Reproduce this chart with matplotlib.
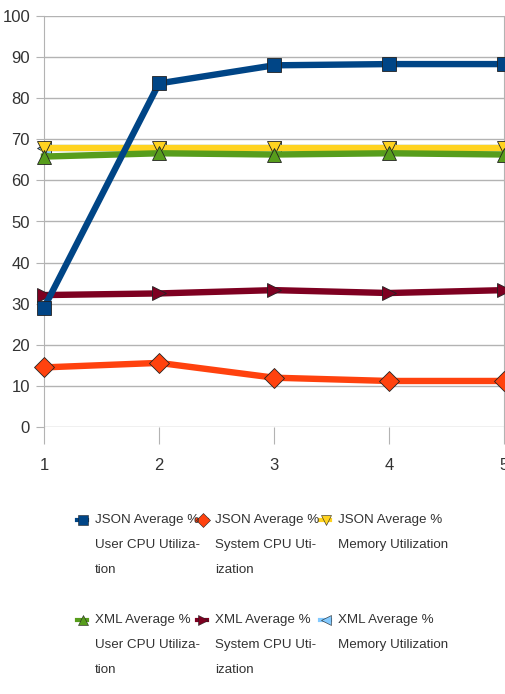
import matplotlib
matplotlib.use("Agg")
import matplotlib.pyplot as plt
from matplotlib.lines import Line2D

plt.rcParams['font.family'] = ['Liberation Sans', 'DejaVu Sans']

x = [1, 2, 3, 4, 5]
json_user = [29.0, 83.6, 88.0, 88.3, 88.3]
json_sys = [14.5, 15.6, 12.0, 11.2, 11.2]
json_mem = [68.0, 68.0, 68.0, 68.0, 68.0]
xml_user = [65.8, 66.6, 66.3, 66.6, 66.3]
xml_sys = [32.1, 32.5, 33.3, 32.6, 33.3]
xml_mem = [68.0, 68.0, 68.0, 68.0, 68.0]

series = [
    ("JSON Average %\nUser CPU Utiliza-\ntion", json_user, "#004586", "s", 6),
    ("JSON Average %\nSystem CPU Uti-\nization", json_sys, "#ff420e", "D", 3),
    ("JSON Average %\nMemory Utilization", json_mem, "#ffd320", "v", 3),
    ("XML Average %\nUser CPU Utiliza-\ntion", xml_user, "#579d1c", "^", 4),
    ("XML Average %\nSystem CPU Uti-\nization", xml_sys, "#7e0021", ">", 5),
    ("XML Average %\nMemory Utilization", xml_mem, "#83caff", "<", 2),
]
yticks = [0, 10, 20, 30, 40, 50, 60, 70, 80, 90, 100]

fig = plt.figure(figsize=(5.06, 6.94), dpi=100)
ax = fig.add_axes([44/506, (694-427)/694, (504-44)/506, (427-16)/694])

for label, vals, color, marker, z in series:
    ax.plot(x, vals, color=color, lw=4.6, marker=marker, markersize=10,
            markerfacecolor=color, markeredgecolor="#222222", markeredgewidth=0.6,
            zorder=z, clip_on=False)

ax.set_xlim(1, 5)
ax.set_ylim(0, 100)
ax.set_yticks(yticks)
ax.set_xticks(x)
ax.grid(axis='y', color='#b3b3b3', lw=1)
ax.set_axisbelow(True)
ax.spines['top'].set_visible(False)
ax.spines['bottom'].set_visible(False)
ax.spines['left'].set_color('#b3b3b3')
ax.spines['right'].set_color('#b3b3b3')
ax.tick_params(axis='y', length=6, color='#b3b3b3', labelsize=12, labelcolor='#333333', pad=4)
ax.tick_params(axis='x', length=12, color='#b3b3b3', labelsize=12, labelcolor='#333333', pad=10)

# legend laid out like the reference (3 columns, 2 rows)
col_x = [83/506, 203/506, 326/506]
row_y = [520/694, 620/694]
line_h = 25/694
for i, (label, vals, color, marker, z) in enumerate(series):
    cx = col_x[i % 3]
    cy = 1 - row_y[i // 3]
    fig.add_artist(Line2D([cx - 6/506, cx + 4/506], [cy, cy], color=color, lw=3,
                          transform=fig.transFigure))
    fig.add_artist(Line2D([cx], [cy], marker=marker, markersize=7, color=color,
                          markeredgecolor="#222222", markeredgewidth=0.4,
                          transform=fig.transFigure))
    for j, part in enumerate(label.split("\n")):
        fig.text(cx + 12/506, cy - j*line_h, part, fontsize=9.6, color='#333333',
                 va='center', ha='left')

fig.savefig("out.png", dpi=100, facecolor='white')
